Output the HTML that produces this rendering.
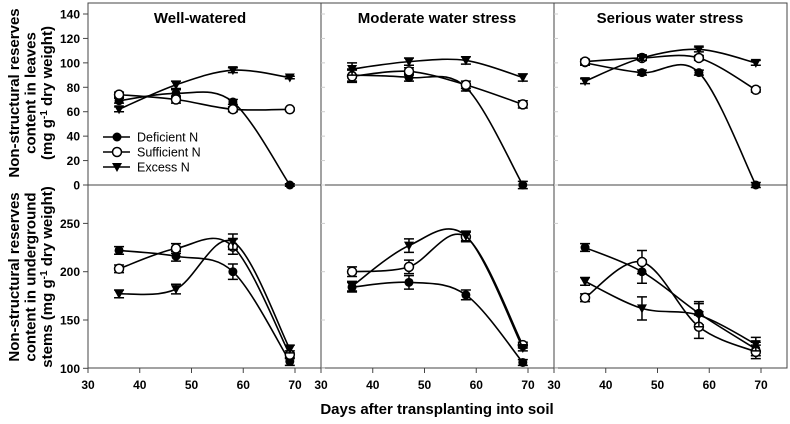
<!DOCTYPE html>
<html><head><meta charset="utf-8"><style>
body{margin:0;background:#fff;}
svg text{font-family:"Liberation Sans",Arial,sans-serif;}
</style></head><body>
<svg id="c" width="790" height="419" xmlns="http://www.w3.org/2000/svg"></svg>
<script>
const days=[36,47,58,69];
const panels=["Well-watered","Moderate water stress","Serious water stress"];
const series=["Deficient N","Sufficient N","Excess N"];
const leafDef=[[69,75,68,0],[90,88,80,0],[100,92,92,0]];
const leafSuf=[[74,70,62,62],[89,93,82,66],[101,104,104,78]];
const leafExc=[[62,82,94,88],[95,101,102,88],[85,104,111,100]];
const leafErr=[[2,3,2,1],[5,3,3,3],[2,2,2,2]];
const stemDef=[[222,216,200,107],[184,189,176,106],[225,200,157,120]];
const stemSuf=[[203,224,226,114],[200,205,236,124],[173,210,143,117]];
const stemExc=[[177,182,231,120],[185,227,237,121],[190,162,155,125]];
const stemErr=[[4,5,8,4],[5,7,5,3],[4,12,12,7]];
const leafTicks=[0,20,40,60,80,100,120,140];
const stemTicks=[100,150,200,250];
const xTicks=[30,40,50,60,70];

const svg=document.getElementById('c');
const NS="http://www.w3.org/2000/svg";
function el(t,a,p){const e=document.createElementNS(NS,t);for(const k in a)e.setAttribute(k,a[k]);(p||svg).appendChild(e);return e;}
const colL=[88,321,554];
function xsc(p,d){return colL[p]+(d-30)*5.175;}
const rows=[{y:v=>185-v*171/140,def:leafDef,suf:leafSuf,exc:leafExc,err:leafErr,ticks:leafTicks},
            {y:v=>368.3-(v-100)*0.966,def:stemDef,suf:stemSuf,exc:stemExc,err:stemErr,ticks:stemTicks}];
const frame=el('rect',{x:88,y:3,width:699,height:365,fill:'none',stroke:'#444','stroke-width':1});

el('line',{x1:88,y1:185,x2:787,y2:185,stroke:'#444'});
el('line',{x1:321,y1:3,x2:321,y2:368,stroke:'#444'});
el('line',{x1:554,y1:3,x2:554,y2:368,stroke:'#444'});
function spline(pts){let d=`M${pts[0][0]},${pts[0][1]}`;for(let i=0;i<pts.length-1;i++){const p0=pts[i-1]||pts[i],p1=pts[i],p2=pts[i+1],p3=pts[i+2]||p2;const t=1/6;d+=` C${p1[0]+(p2[0]-p0[0])*t},${p1[1]+(p2[1]-p0[1])*t} ${p2[0]-(p3[0]-p1[0])*t},${p2[1]-(p3[1]-p1[1])*t} ${p2[0]},${p2[1]}`;}return d;}
function marker(kind,x,y,g){
  if(kind===0)return el('circle',{cx:x,cy:y,r:4.5,fill:'#000'},g);
  if(kind===1)return el('circle',{cx:x,cy:y,r:4.5,fill:'#fff',stroke:'#000','stroke-width':1.5},g);
  return el('path',{d:`M${x-5},${y-4} L${x+5},${y-4} L${x},${y+5} Z`,fill:'#000'},g);
}
rows.forEach((r,ri)=>{
  r.ticks.forEach(t=>{const y=r.y(t);
    el('line',{x1:83,y1:y,x2:88,y2:y,stroke:'#444'});
    [321,554].forEach(x=>el('line',{x1:x,y1:y,x2:x+4,y2:y,stroke:'#ccc'}));
    const tx=el('text',{x:80,y:y+4.5,'text-anchor':'end','font-size':12,'font-weight':'bold'});tx.textContent=t;
    
  });
  for(let p=0;p<3;p++){
    const g=el('g',{});
    
    [r.def,r.suf,r.exc].forEach((arr,si)=>{
      const pts=days.map((d,i)=>[xsc(p,d),r.y(arr[p][i])]);
      const path=el('path',{d:spline(pts),fill:'none',stroke:'#000','stroke-width':1.6},g);
      
      days.forEach((d,i)=>{const x=xsc(p,d),v=arr[p][i],e=r.err[p][i];
        el('path',{d:`M${x},${r.y(v+e)}V${r.y(v-e)}M${x-5},${r.y(v+e)}h10M${x-5},${r.y(v-e)}h10`,stroke:'#000','stroke-width':1.5,fill:'none'},g);
        const m=marker(si,x,pts[i][1],g);
        
      });
    });
  }
});
for(let p=0;p<3;p++)xTicks.forEach(t=>{const x=xsc(p,t);
  el('line',{x1:x,y1:368,x2:x,y2:373,stroke:'#444'});
  const tx=el('text',{x:x,y:389,'text-anchor':'middle','font-size':12,'font-weight':'bold'});tx.textContent=t;
  });
const tpos=[200,437,670];
panels.forEach((n,i)=>{const t=el('text',{x:tpos[i],y:23,'text-anchor':'middle','font-size':15,'font-weight':'bold'});t.textContent=n;
  });
const xt=el('text',{x:437,y:414,'text-anchor':'middle','font-size':15,'font-weight':'bold'});xt.textContent='Days after transplanting into soil';

function ytitle(lines,cy,name){const g=el('g',{transform:`translate(0,${cy}) rotate(-90)`});
  
  lines.forEach((l,i)=>{const t=el('text',{x:0,y:19+i*16.5,'text-anchor':'middle','font-size':15,'font-weight':'bold'},g);t.innerHTML=l;});}
ytitle(['Non-structural reserves','content in leaves','(mg g<tspan dy="-5" font-size="10">-1</tspan><tspan dy="5"> dry weight)</tspan>'],93,'y-axis-title-leaves');
ytitle(['Non-structural reserves','content in underground','stems  (mg g<tspan dy="-5" font-size="10">-1</tspan><tspan dy="5"> dry weight)</tspan>'],277,'y-axis-title-stems');
series.forEach((s,i)=>{const y=137+i*15;const g=el('g',{});
  
  el('line',{x1:103,y1:y,x2:130,y2:y,stroke:'#000','stroke-width':1.6},g);marker(i,117,y,g);
  const t=el('text',{x:137,y:y+4.5,'font-size':12.5},g);t.textContent=s;});
</script>
</body></html>
